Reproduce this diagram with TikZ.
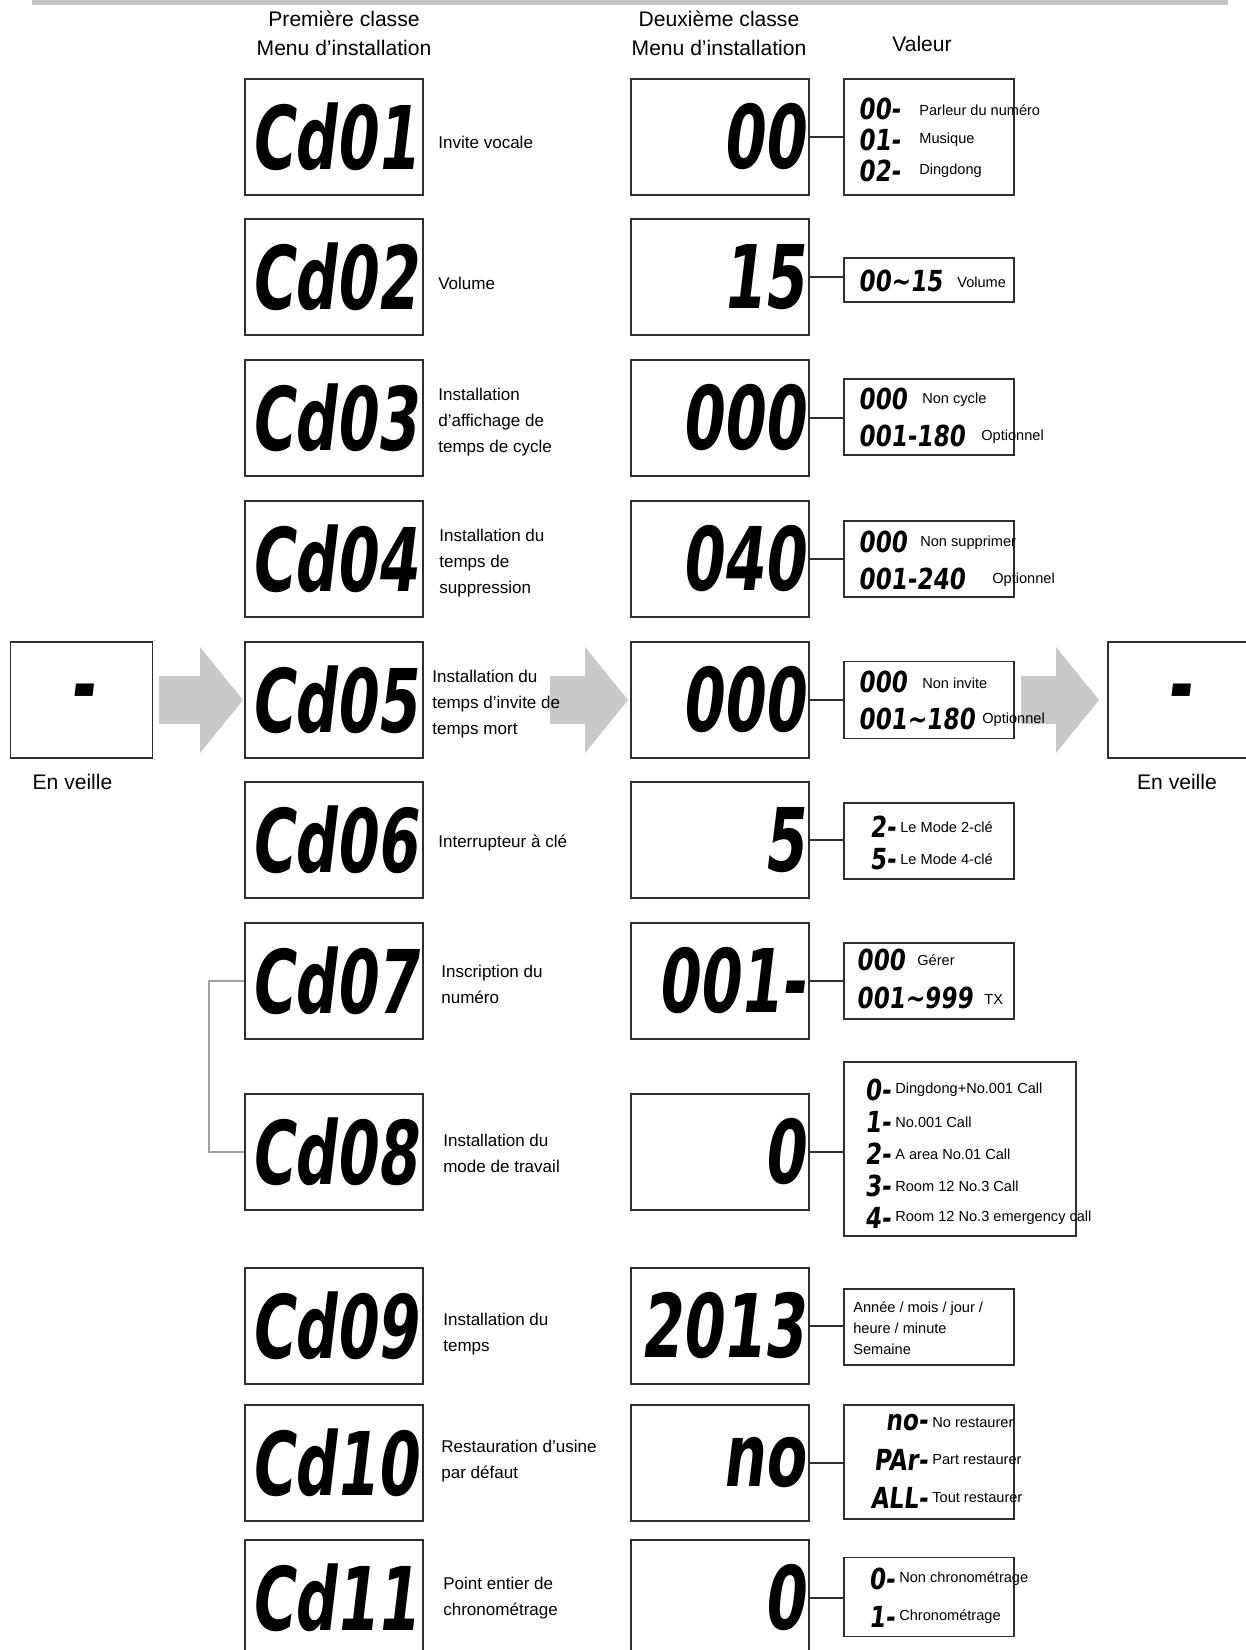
\documentclass[tikz,border=0pt]{standalone}
\usepackage{fontspec}
\setmainfont{Liberation Sans}
\newfontfamily\lcdfont{DejaVu Sans}[FakeStretch=0.67,FakeSlant=0.12]
\newfontfamily\lcdsmallfont{DejaVu Sans}[FakeStretch=0.8,FakeSlant=0.12]
\usepackage{tikz}
\usetikzlibrary{arrows.meta,positioning}
\definecolor{frameink}{HTML}{2E2E2E}
\definecolor{arrowgray}{HTML}{C9C9C9}
\definecolor{railgray}{HTML}{C2C2C2}
\definecolor{bracketgray}{HTML}{A0A0A0}
\tikzset{
  manual sheet/.style={
    x=0.02cm,
    y=-0.02cm,
    line join=miter
  },
  screenbox/.style={
    draw=frameink,
    line width=1.1pt,
    minimum width=3.56cm,
    minimum height=2.32cm,
    inner sep=0pt,
    font=\lcdfont\bfseries\fontsize{50}{50}\selectfont
  },
  menuscreen/.style={
    screenbox
  },
  valuescreen/.style={
    screenbox,
    text width=3.38cm,
    align=right
  },
  idlescreen/.style={
    screenbox,
    minimum width=2.84cm
  },
  optbox/.style={
    draw=frameink,
    line width=1.1pt,
    minimum width=3.4cm,
    minimum height=1.52cm,
    inner sep=0pt
  },
  headtext/.style={
    font=\fontsize{12}{16.5}\selectfont,
    align=center,
    inner sep=0pt
  },
  menutext/.style={
    font=\fontsize{9.7}{14.8}\selectfont,
    align=left,
    inner sep=0pt
  },
  opttext/.style={
    font=\fontsize{8.3}{12}\selectfont,
    anchor=west,
    inner sep=0pt
  },
  lcdsmall/.style={
    font=\lcdsmallfont\bfseries\fontsize{16.5}{16.5}\selectfont,
    inner sep=0pt
  },
  tieline/.style={
    draw=frameink,
    line width=1.1pt
  },
  bracketline/.style={
    draw=bracketgray,
    line width=0.9pt
  },
  bigarrow/.style={
    draw=arrowgray,
    line width=0.96cm,
    -{Triangle[length=0.86cm,width=2.12cm,line width=0pt]}
  }
}

\begin{document}
\begin{tikzpicture}[manual sheet]
\useasboundingbox (0,0) rectangle (1245,1650);
\draw[railgray, line width=0.1cm] (32,2) -- (1228,2);

\node[headtext] (head1) at (344,33) {Première classe\\Menu d’installation};
\node[headtext] (head2) at (719,33) {Deuxième classe\\Menu d’installation};
\node[headtext] (head3) at (922,44) {Valeur};

\node[idlescreen] (idleL) at (81.5,700) {-};
\node[idlescreen] (idleR) at (1179,700) {-};
\node[headtext, below=0.3cm of idleL, xshift=-0.18cm] (idleLtxt) {En veille};
\node[headtext, below=0.3cm of idleR, xshift=-0.04cm] (idleRtxt) {En veille};

\node[menuscreen] (cd01) at (334,137) {Cd01};
\node[menuscreen] (cd02) at (334,277) {Cd02};
\node[menuscreen] (cd03) at (334,418) {Cd03};
\node[menuscreen] (cd04) at (334,559) {Cd04};
\node[menuscreen] (cd05) at (334,700) {Cd05};
\node[menuscreen] (cd06) at (334,840) {Cd06};
\node[menuscreen] (cd07) at (334,981) {Cd07};
\node[menuscreen] (cd08) at (334,1152) {Cd08};
\node[menuscreen] (cd09) at (334,1326) {Cd09};
\node[menuscreen] (cd10) at (334,1463) {Cd10};
\node[menuscreen] (cd11) at (334,1598) {Cd11};

\node[valuescreen] (disp01) at (720,137) {00};
\node[valuescreen] (disp02) at (720,277) {15};
\node[valuescreen] (disp03) at (720,418) {000};
\node[valuescreen] (disp04) at (720,559) {040};
\node[valuescreen] (disp05) at (720,700) {000};
\node[valuescreen] (disp06) at (720,840) {5};
\node[valuescreen] (disp07) at (720,981) {001-};
\node[valuescreen] (disp08) at (720,1152) {0};
\node[valuescreen] (disp09) at (720,1326) {2013};
\node[valuescreen] (disp10) at (720,1463) {no};
\node[valuescreen] (disp11) at (720,1598) {0};

\node[optbox, minimum height=2.32cm] (opt01) at (929,137) {};
\node[optbox, minimum height=0.88cm] (opt02) at (929,280) {};
\node[optbox] (opt03) at (929,417) {};
\node[optbox] (opt04) at (929,559) {};
\node[optbox, minimum height=1.54cm] (opt05) at (929,700) {};
\node[optbox] (opt06) at (929,841) {};
\node[optbox] (opt07) at (929,981) {};
\node[optbox, minimum width=4.64cm, minimum height=3.48cm] (opt08) at (960,1149) {};
\node[optbox] (opt09) at (929,1327) {};
\node[optbox, minimum height=2.28cm] (opt10) at (929,1462) {};
\node[optbox, minimum height=1.58cm] (opt11) at (929,1597) {};

\draw[tieline] (disp01) -- (disp01 -| opt01.west);
\draw[tieline] (disp02) -- (disp02 -| opt02.west);
\draw[tieline] (disp03) -- (disp03 -| opt03.west);
\draw[tieline] (disp04) -- (disp04 -| opt04.west);
\draw[tieline] (disp05) -- (disp05 -| opt05.west);
\draw[tieline] (disp06) -- (disp06 -| opt06.west);
\draw[tieline] (disp07) -- (disp07 -| opt07.west);
\draw[tieline] (disp08) -- (disp08 -| opt08.west);
\draw[tieline] (disp09) -- (disp09 -| opt09.west);
\draw[tieline] (disp10) -- (disp10 -| opt10.west);
\draw[tieline] (disp11) -- (disp11 -| opt11.west);
\draw[bracketline] (cd07.west) -- ++(-35,0) |- (cd08.west);

\draw[bigarrow, shorten <=0.11cm, shorten >=0.02cm] (idleL) -- (cd05);
\draw[bigarrow, shorten <=2.52cm, shorten >=0.04cm] (cd05) -- (disp05);
\draw[bigarrow, shorten <=0.12cm, shorten >=0.16cm] (opt05) -- (idleR);

\node[menutext, right=0.28cm of cd01, yshift=-0.1cm] (txt01) {Invite vocale};
\node[menutext, right=0.28cm of cd02, yshift=-0.12cm] (txt02) {Volume};
\node[menutext, right=0.28cm of cd03, yshift=-0.08cm] (txt03) {Installation\\d’affichage de\\temps de cycle};
\node[menutext, right=0.3cm of cd04, yshift=-0.08cm] (txt04) {Installation du\\temps de\\suppression};
\node[menutext, right=0.16cm of cd05, yshift=-0.08cm] (txt05) {Installation du\\temps d’invite de\\temps mort};
\node[menutext, right=0.28cm of cd06, yshift=-0.06cm] (txt06) {Interrupteur à clé};
\node[menutext, right=0.34cm of cd07, yshift=-0.06cm] (txt07) {Inscription du\\numéro};
\node[menutext, right=0.38cm of cd08, yshift=-0.02cm] (txt08) {Installation du\\mode de travail};
\node[menutext, right=0.38cm of cd09, yshift=-0.16cm] (txt09) {Installation du\\temps};
\node[menutext, right=0.34cm of cd10, yshift=0.04cm] (txt10) {Restauration d’usine\\par défaut};
\node[menutext, right=0.38cm of cd11] (txt11) {Point entier de\\chronométrage};

\node[lcdsmall, anchor=west] (v01a) at (858,109) {00-};
\node[lcdsmall, anchor=west] (v01b) at (858,140) {01-};
\node[lcdsmall, anchor=west] (v01c) at (858,171) {02-};
\node[opttext] (o01a) at (919,110) {Parleur du numéro};
\node[opttext] (o01b) at (919,140) {Musique};
\node[opttext] (o01c) at (919,171) {Dingdong};

\node[lcdsmall, anchor=west] (v02a) at (858,281) {00\~{}15};
\node[opttext] (o02a) at (957,282) {Volume};

\node[lcdsmall, anchor=west] (v03a) at (858,399) {000};
\node[lcdsmall, anchor=west] (v03b) at (858,436) {001-180};
\node[opttext] (o03a) at (922,400) {Non cycle};
\node[opttext] (o03b) at (981,437) {Optionnel};

\node[lcdsmall, anchor=west] (v04a) at (858,542) {000};
\node[lcdsmall, anchor=west] (v04b) at (858,579) {001-240};
\node[opttext] (o04a) at (920,543) {Non supprimer};
\node[opttext] (o04b) at (992,580) {Optionnel};

\node[lcdsmall, anchor=west] (v05a) at (858,682) {000};
\node[lcdsmall, anchor=west] (v05b) at (858,719) {001\~{}180};
\node[opttext] (o05a) at (922,683) {Non invite};
\node[opttext] (o05b) at (982,720) {Optionnel};

\node[opttext] (o06a) at (900,827) {Le Mode 2-clé};
\node[opttext] (o06b) at (900,859) {Le Mode 4-clé};
\node[lcdsmall, left=0.08cm of o06a] (v06a) {2-};
\node[lcdsmall, left=0.08cm of o06b] (v06b) {5-};

\node[lcdsmall, anchor=west] (v07a) at (856,960) {000};
\node[lcdsmall, anchor=west] (v07b) at (856,998) {001\~{}999};
\node[opttext] (o07a) at (917,960) {Gérer};
\node[opttext] (o07b) at (984,999) {TX};

\node[opttext] (o08a) at (895,1090) {Dingdong+No.001 Call};
\node[opttext] (o08b) at (895,1122) {No.001 Call};
\node[opttext] (o08c) at (895,1154) {A area No.01 Call};
\node[opttext] (o08d) at (895,1186) {Room 12 No.3 Call};
\node[opttext] (o08e) at (895,1218) {Room 12 No.3 emergency call};
\node[lcdsmall, left=0.08cm of o08a] (v08a) {0-};
\node[lcdsmall, left=0.08cm of o08b] (v08b) {1-};
\node[lcdsmall, left=0.08cm of o08c] (v08c) {2-};
\node[lcdsmall, left=0.08cm of o08d] (v08d) {3-};
\node[lcdsmall, left=0.08cm of o08e] (v08e) {4-};

\node[opttext, align=left] (o09a) at (853,1328) {Année / mois / jour /\\heure / minute\\Semaine};

\node[opttext] (o10a) at (932,1423) {No restaurer};
\node[opttext] (o10b) at (932,1460) {Part restaurer};
\node[opttext] (o10c) at (932,1498) {Tout restaurer};
\node[lcdsmall, left=0.08cm of o10a] (v10a) {no-};
\node[lcdsmall, left=0.08cm of o10b] (v10b) {PAr-};
\node[lcdsmall, left=0.08cm of o10c] (v10c) {ALL-};

\node[opttext] (o11a) at (899,1579) {Non chronométrage};
\node[opttext] (o11b) at (899,1617) {Chronométrage};
\node[lcdsmall, left=0.08cm of o11a] (v11a) {0-};
\node[lcdsmall, left=0.08cm of o11b] (v11b) {1-};
\end{tikzpicture}
\end{document}
